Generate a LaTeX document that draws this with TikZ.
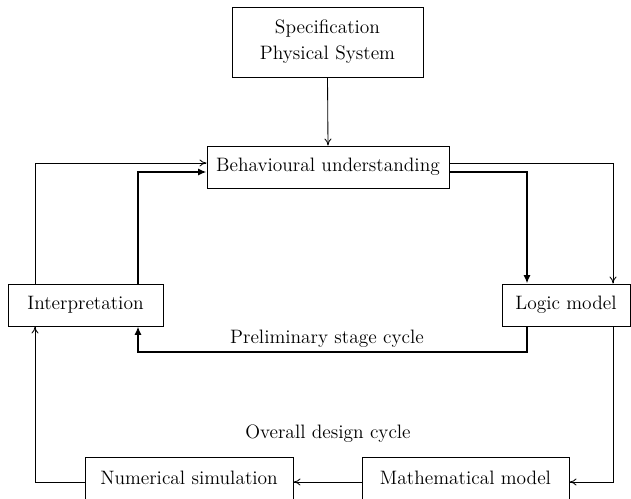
\documentclass[tikz,border=0pt]{standalone}
\usetikzlibrary{arrows.meta}
\tikzset{
  box/.style={draw,line width=0.6pt,minimum height=1.05cm,inner sep=0pt,
    font=\fontsize{13.8}{18.5}\selectfont},
  thinarr/.style={line width=0.6pt,-{To[length=5pt,width=5pt]}},
  thickarr/.style={line width=1.3pt,-{Latex[length=6pt,width=5pt]}},
  lbl/.style={font=\fontsize{13.8}{16}\selectfont}
}
\begin{document}
\begin{tikzpicture}[x=0.025cm,y=-0.025cm]
  \useasboundingbox (0,0) rectangle (631,499);
  \node[box,minimum width=4.775cm,minimum height=1.75cm,align=center] (spec) at (327.5,42) {Specification\\Physical System};
  \node[box,minimum width=6.05cm] (behav) at (328,167) {Behavioural understanding};
  \node[box,minimum width=3.875cm] (interp) at (85.5,305) {Interpretation};
  \node[box,minimum width=3.2cm] (logic) at (566,305) {Logic model};
  \node[box,minimum width=5.2cm] (numsim) at (189,478) {Numerical simulation};
  \node[box,minimum width=5.175cm] (mathm) at (465.5,478) {Mathematical model};
  \coordinate (outL) at (35,163);
  \coordinate (inL) at (138,172);
  \coordinate (outR) at (613,163);
  \coordinate (inR) at (527,172);
  \coordinate (prel) at (0,352);
  \coordinate (bot) at (0,482);
  \draw[thinarr] (spec.south) -- (behav.north);
  \draw[thinarr] (interp.north -| outL) |- (behav.west |- outL);
  \draw[thickarr] (interp.north -| inL) |- (behav.west |- inL);
  \draw[thinarr] (behav.east |- outR) -| (logic.north -| outR);
  \draw[thickarr] (behav.east |- inR) -| (logic.north -| inR);
  \draw[thickarr] (logic.south -| inR) -- (inR |- prel) -- (inL |- prel) -- (interp.south -| inL);
  \draw[thinarr] (logic.south -| outR) |- (mathm.east |- bot);
  \draw[thinarr] (mathm.west |- bot) -- (numsim.east |- bot);
  \draw[thinarr] (numsim.west |- bot) -| (interp.south -| outL);
  \node[lbl] (prelim) at (327,339) {Preliminary stage cycle};
  \node[lbl] (overall) at (328,434) {Overall design cycle};
\end{tikzpicture}
\end{document}
